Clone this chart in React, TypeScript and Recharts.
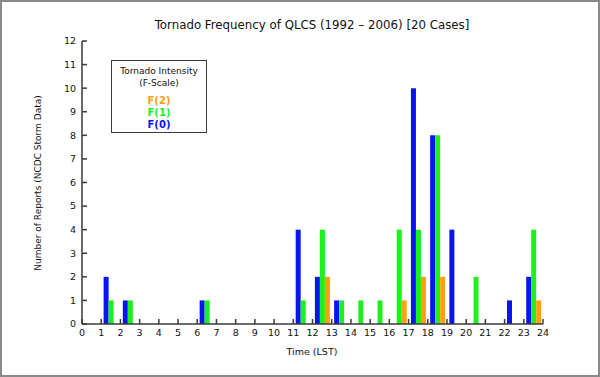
import { Bar, ComposedChart, XAxis, YAxis } from 'recharts';

// hour bins 0-1, 1-2, ... 23-24 (bar group sits at bin centre)
const hourBins = [0.5, 1.5, 2.5, 3.5, 4.5, 5.5, 6.5, 7.5, 8.5, 9.5, 10.5, 11.5, 12.5, 13.5, 14.5, 15.5, 16.5, 17.5, 18.5, 19.5, 20.5, 21.5, 22.5, 23.5];
const f0 = [0, 2, 1, 0, 0, 0, 1, 0, 0, 0, 0, 4, 2, 1, 0, 0, 0, 10, 8, 4, 0, 0, 1, 2];
const f1 = [0, 1, 1, 0, 0, 0, 1, 0, 0, 0, 0, 1, 4, 1, 1, 1, 4, 4, 8, 0, 2, 0, 0, 4];
const f2 = [0, 0, 0, 0, 0, 0, 0, 0, 0, 0, 0, 0, 2, 0, 0, 0, 1, 2, 2, 0, 0, 0, 0, 1];
const xTicks = [0, 1, 2, 3, 4, 5, 6, 7, 8, 9, 10, 11, 12, 13, 14, 15, 16, 17, 18, 19, 20, 21, 22, 23, 24];
const yTicks = [0, 1, 2, 3, 4, 5, 6, 7, 8, 9, 10, 11, 12];

const BLUE = '#0a14f0', GREEN = '#1ef01e', ORANGE = '#ffa010', AXIS = '#3a3a3a';
const FONT = '"DejaVu Sans", sans-serif';

const data = hourBins.map((x, i) => ({ x, f0: f0[i], f1: f1[i], f2: f2[i] }));
const tickStyle = { fill: '#111', fontSize: 9.5, fontFamily: FONT };
const blank = () => '';

export default function App() {
  return (
    <div style={{ position: 'absolute', left: 0, top: 0, width: 600, height: 377, background: '#fff', fontFamily: FONT }}>
      <div style={{ position: 'absolute', inset: 0, border: '2px solid #8a8a8a', boxSizing: 'border-box' }} />
      <ComposedChart width={600} height={377} data={data} margin={{ top: 41, right: 57, bottom: 23, left: 52 }}
        barCategoryGap="12.5%" barGap={0}>
        <XAxis dataKey="x" type="number" domain={[0, 24]} ticks={xTicks} allowDataOverflow interval={0}
          height={30} tickSize={-5} tickMargin={10} stroke={AXIS} strokeWidth={1.5} tick={tickStyle} />
        <XAxis xAxisId="top" orientation="top" type="number" domain={[0, 24]} ticks={xTicks} allowDataOverflow interval={0}
          height={0} tickSize={-5} stroke={AXIS} strokeWidth={1.5} tickFormatter={blank} />
        <YAxis type="number" domain={[0, 12]} ticks={yTicks} allowDataOverflow interval={0}
          width={30} tickSize={-5} tickMargin={11} stroke={AXIS} strokeWidth={1.5} tick={tickStyle} />
        <YAxis yAxisId="right" orientation="right" type="number" domain={[0, 12]} ticks={yTicks} allowDataOverflow interval={0}
          width={0} tickSize={-5} stroke={AXIS} strokeWidth={1.5} tickFormatter={blank} />
        <Bar dataKey="f0" fill={BLUE} isAnimationActive={false} />
        <Bar dataKey="f1" fill={GREEN} isAnimationActive={false} />
        <Bar dataKey="f2" fill={ORANGE} isAnimationActive={false} />
      </ComposedChart>

      <div style={{ position: 'absolute', left: 312, top: 25, transform: 'translate(-50%,-50%)', whiteSpace: 'nowrap', fontSize: 11.8, color: '#111' }}>
        Tornado Frequency of QLCS (1992 – 2006) [20 Cases]
      </div>
      <div style={{ position: 'absolute', left: 312, top: 351, transform: 'translate(-50%,-50%)', whiteSpace: 'nowrap', fontSize: 9.5, color: '#111' }}>
        Time (LST)
      </div>
      <div style={{ position: 'absolute', left: 38, top: 183, transform: 'translate(-50%,-50%) rotate(-90deg)', whiteSpace: 'nowrap', fontSize: 9, color: '#111' }}>
        Number of Reports (NCDC Storm Data)
      </div>

      <div style={{ position: 'absolute', left: 111, top: 60, width: 96, height: 73, border: `1.5px solid ${AXIS}`, boxSizing: 'border-box',
        textAlign: 'center', fontSize: 9, lineHeight: '12px', color: '#111', paddingTop: 4 }}>
        <div>Tornado Intensity</div>
        <div>(F-Scale)</div>
        <div style={{ height: 6 }} />
        <div style={{ color: ORANGE, fontWeight: 'bold', fontSize: 10 }}>F(2)</div>
        <div style={{ color: GREEN, fontWeight: 'bold', fontSize: 10 }}>F(1)</div>
        <div style={{ color: BLUE, fontWeight: 'bold', fontSize: 10 }}>F(0)</div>
      </div>
    </div>
  );
}
